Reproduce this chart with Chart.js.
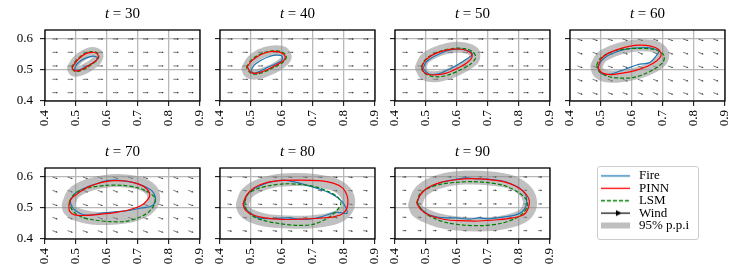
<!DOCTYPE html>
<html>
<head>
<meta charset="utf-8">
<script src="https://cdn.jsdelivr.net/npm/chart.js@4.4.1/dist/chart.umd.min.js"></script>
<style>
  html, body { margin: 0; padding: 0; background: #fff; }
  #wrap { position: relative; width: 746px; height: 277px; overflow: hidden; }
  #wrap canvas.panel { position: absolute; left: 0; top: 0; }
  #legendBox { position: absolute; left: 597px; top: 166px; width: 100px; height: 72px;
    border: 1px solid #cccccc; border-radius: 3px; background: #fff; }
</style>
</head>
<body>
<div id="wrap">
  <div id="legendBox"><canvas id="legend" width="100" height="72"></canvas></div>
</div>
<script>
const times = [30, 40, 50, 60, 70, 80, 90];
const xTicks = [0.4, 0.5, 0.6, 0.7, 0.8, 0.9];
const yTicks = [0.4, 0.5, 0.6];
const legendNames = ["Fire", "PINN", "LSM", "Wind", "95% p.p.i"];

// wind grid (arrow tails) and the wind vector for each time
const windX = [0.424, 0.473, 0.522, 0.570, 0.619, 0.668, 0.716, 0.765, 0.814, 0.862];
const windY = [0.427, 0.470, 0.513, 0.557, 0.600];
const windU = [0.018, 0.018, 0.018, 0.017, 0.017, 0.015, 0.013];
const windV = [0, 0, 0, -0.006, -0.006, -0.002, 0];

// front contours, [x, y]
const fire30 = [[0.495,0.500],[0.500,0.515],[0.515,0.530],[0.535,0.540],[0.555,0.545],[0.568,0.540],[0.565,0.530],[0.550,0.520],[0.530,0.510],[0.510,0.500]];
const pinn30 = [[0.487,0.505],[0.495,0.520],[0.510,0.537],[0.530,0.552],[0.550,0.557],[0.565,0.555],[0.572,0.545],[0.566,0.532],[0.550,0.520],[0.530,0.507],[0.510,0.498],[0.495,0.498]];
const lsm30 = [[0.486,0.507],[0.494,0.523],[0.510,0.540],[0.530,0.554],[0.550,0.559],[0.566,0.557],[0.574,0.546],[0.568,0.532],[0.552,0.519],[0.531,0.505],[0.510,0.496],[0.494,0.497]];
const band30 = [[0.487,0.505],[0.500,0.528],[0.525,0.548],[0.553,0.558],[0.572,0.550],[0.566,0.530],[0.540,0.510],[0.510,0.496],[0.492,0.496]];

const fire40 = [[0.500,0.497],[0.510,0.515],[0.530,0.530],[0.555,0.542],[0.580,0.548],[0.600,0.545],[0.600,0.532],[0.580,0.520],[0.550,0.507],[0.525,0.494],[0.507,0.490]];
const pinn40 = [[0.488,0.510],[0.500,0.527],[0.520,0.543],[0.545,0.555],[0.570,0.560],[0.595,0.557],[0.610,0.545],[0.605,0.530],[0.580,0.515],[0.550,0.500],[0.520,0.490],[0.500,0.492]];
const lsm40 = [[0.485,0.508],[0.497,0.528],[0.520,0.546],[0.548,0.558],[0.575,0.562],[0.600,0.558],[0.614,0.545],[0.607,0.528],[0.580,0.512],[0.550,0.497],[0.520,0.487],[0.498,0.490]];
const band40 = [[0.485,0.505],[0.500,0.530],[0.530,0.552],[0.570,0.563],[0.605,0.560],[0.615,0.540],[0.590,0.515],[0.550,0.495],[0.510,0.485],[0.490,0.492]];

const fire50 = [[0.490,0.505],[0.500,0.525],[0.520,0.540],[0.550,0.555],[0.580,0.565],[0.610,0.567],[0.640,0.560],[0.650,0.550],[0.630,0.535],[0.600,0.515],[0.570,0.500],[0.540,0.488],[0.510,0.487]];
const pinn50 = [[0.487,0.513],[0.497,0.530],[0.520,0.548],[0.550,0.560],[0.585,0.567],[0.620,0.566],[0.645,0.555],[0.648,0.540],[0.630,0.522],[0.600,0.505],[0.565,0.490],[0.530,0.484],[0.503,0.487],[0.490,0.497]];
const lsm50 = [[0.485,0.510],[0.495,0.530],[0.520,0.550],[0.555,0.563],[0.590,0.570],[0.625,0.569],[0.652,0.558],[0.660,0.540],[0.645,0.520],[0.610,0.500],[0.575,0.485],[0.540,0.478],[0.510,0.482],[0.490,0.495]];
const band50 = [[0.482,0.508],[0.495,0.535],[0.525,0.555],[0.570,0.570],[0.620,0.572],[0.655,0.558],[0.655,0.535],[0.625,0.512],[0.580,0.490],[0.530,0.478],[0.495,0.485]];

const fire60 = [[0.490,0.508],[0.500,0.528],[0.520,0.545],[0.540,0.555],[0.570,0.565],[0.610,0.571],[0.650,0.572],[0.675,0.567],[0.687,0.560],[0.680,0.548],[0.668,0.533],[0.655,0.523],[0.635,0.520],[0.615,0.516],[0.590,0.507],[0.565,0.498],[0.535,0.488],[0.510,0.485],[0.495,0.493]];
const pinn60 = [[0.492,0.515],[0.500,0.535],[0.520,0.552],[0.550,0.565],[0.590,0.576],[0.625,0.580],[0.660,0.577],[0.685,0.567],[0.694,0.548],[0.680,0.530],[0.650,0.512],[0.610,0.498],[0.570,0.490],[0.530,0.485],[0.505,0.490],[0.493,0.502]];
const lsm60 = [[0.486,0.515],[0.495,0.535],[0.515,0.550],[0.545,0.562],[0.580,0.568],[0.620,0.570],[0.660,0.568],[0.690,0.560],[0.704,0.545],[0.700,0.525],[0.675,0.505],[0.640,0.487],[0.600,0.475],[0.560,0.474],[0.520,0.480],[0.495,0.495]];
const band60 = [[0.485,0.512],[0.500,0.540],[0.535,0.560],[0.580,0.574],[0.630,0.580],[0.675,0.575],[0.700,0.555],[0.695,0.530],[0.665,0.508],[0.620,0.490],[0.565,0.480],[0.515,0.480],[0.490,0.495]];

const fire70 = [[0.481,0.525],[0.500,0.550],[0.530,0.565],[0.560,0.576],[0.600,0.588],[0.630,0.590],[0.670,0.585],[0.700,0.578],[0.725,0.568],[0.745,0.555],[0.756,0.535],[0.753,0.515],[0.740,0.505],[0.710,0.500],[0.670,0.492],[0.630,0.488],[0.590,0.484],[0.550,0.478],[0.525,0.478],[0.505,0.487],[0.486,0.505]];
const pinn70 = [[0.477,0.508],[0.485,0.530],[0.510,0.550],[0.540,0.568],[0.580,0.582],[0.620,0.588],[0.660,0.587],[0.700,0.578],[0.728,0.562],[0.738,0.543],[0.730,0.525],[0.710,0.508],[0.675,0.495],[0.630,0.486],[0.580,0.480],[0.530,0.476],[0.495,0.478],[0.479,0.490]];
const lsm70 = [[0.478,0.520],[0.490,0.540],[0.515,0.557],[0.550,0.567],[0.600,0.573],[0.650,0.573],[0.700,0.565],[0.735,0.550],[0.755,0.532],[0.752,0.510],[0.735,0.488],[0.705,0.470],[0.660,0.457],[0.610,0.456],[0.560,0.461],[0.520,0.470],[0.495,0.485],[0.481,0.505]];
const band70 = [[0.475,0.510],[0.490,0.545],[0.530,0.570],[0.590,0.585],[0.650,0.588],[0.710,0.578],[0.745,0.555],[0.750,0.525],[0.730,0.497],[0.685,0.477],[0.620,0.467],[0.550,0.468],[0.500,0.480],[0.478,0.495]];

const fire80 = [[0.476,0.518],[0.490,0.545],[0.515,0.565],[0.555,0.582],[0.606,0.590],[0.650,0.582],[0.690,0.570],[0.725,0.560],[0.755,0.548],[0.780,0.533],[0.800,0.512],[0.810,0.483],[0.790,0.485],[0.770,0.485],[0.720,0.470],[0.670,0.463],[0.620,0.468],[0.570,0.466],[0.520,0.469],[0.497,0.485],[0.480,0.500]];
const pinn80 = [[0.474,0.512],[0.485,0.540],[0.510,0.565],[0.550,0.582],[0.600,0.589],[0.660,0.590],[0.720,0.588],[0.765,0.580],[0.795,0.565],[0.810,0.540],[0.812,0.510],[0.800,0.485],[0.770,0.472],[0.720,0.467],[0.660,0.464],[0.600,0.463],[0.545,0.468],[0.505,0.478],[0.482,0.493]];
const lsm80 = [[0.480,0.520],[0.490,0.545],[0.520,0.562],[0.560,0.572],[0.610,0.578],[0.660,0.576],[0.710,0.568],[0.750,0.553],[0.780,0.535],[0.790,0.515],[0.775,0.490],[0.745,0.466],[0.700,0.447],[0.650,0.444],[0.590,0.450],[0.540,0.460],[0.505,0.474],[0.485,0.495]];
const band80 = [[0.472,0.510],[0.485,0.545],[0.520,0.570],[0.575,0.587],[0.640,0.592],[0.710,0.588],[0.770,0.575],[0.805,0.550],[0.815,0.515],[0.800,0.485],[0.760,0.465],[0.690,0.455],[0.620,0.455],[0.550,0.460],[0.500,0.475],[0.478,0.492]];

const fire90 = [[0.472,0.520],[0.485,0.548],[0.510,0.567],[0.550,0.583],[0.600,0.593],[0.630,0.597],[0.660,0.594],[0.700,0.593],[0.740,0.588],[0.770,0.580],[0.800,0.565],[0.820,0.545],[0.825,0.525],[0.822,0.505],[0.810,0.488],[0.790,0.478],[0.760,0.472],[0.730,0.468],[0.700,0.465],[0.670,0.468],[0.640,0.464],[0.600,0.468],[0.570,0.468],[0.540,0.470],[0.510,0.478],[0.490,0.492],[0.478,0.505]];
const pinn90 = [[0.470,0.515],[0.480,0.540],[0.505,0.565],[0.545,0.582],[0.600,0.592],[0.650,0.595],[0.700,0.592],[0.750,0.585],[0.790,0.570],[0.820,0.548],[0.833,0.525],[0.830,0.500],[0.815,0.478],[0.780,0.468],[0.730,0.462],[0.670,0.458],[0.610,0.459],[0.560,0.463],[0.515,0.475],[0.485,0.493]];
const lsm90 = [[0.470,0.517],[0.480,0.545],[0.510,0.565],[0.550,0.577],[0.600,0.583],[0.650,0.585],[0.700,0.582],[0.750,0.573],[0.790,0.555],[0.820,0.532],[0.828,0.510],[0.815,0.485],[0.785,0.465],[0.740,0.450],[0.680,0.443],[0.620,0.445],[0.570,0.452],[0.530,0.465],[0.495,0.485]];
const band90 = [[0.465,0.510],[0.478,0.545],[0.510,0.572],[0.560,0.590],[0.630,0.598],[0.700,0.596],[0.770,0.585],[0.815,0.560],[0.835,0.525],[0.828,0.490],[0.800,0.468],[0.740,0.452],[0.670,0.447],[0.600,0.450],[0.540,0.460],[0.500,0.475],[0.472,0.492]];

const fire = [fire30, fire40, fire50, fire60, fire70, fire80, fire90];
const pinn = [pinn30, pinn40, pinn50, pinn60, pinn70, pinn80, pinn90];
const lsm = [lsm30, lsm40, lsm50, lsm60, lsm70, lsm80, lsm90];
const band = [band30, band40, band50, band60, band70, band80, band90];
const bandWidth = [10, 10, 11, 12, 13, 13, 14];

const SERIF = "'Liberation Serif', 'Times New Roman', serif";
const W = 746, H = 277;
const colLeft = [45, 220, 395, 570];

// closed curve -> {x,y} list
function closed(pts) {
  return pts.concat([pts[0]]).map(p => ({ x: p[0], y: p[1] }));
}

// quiver arrows from datasets flagged with quiver:true
const quiverPlugin = {
  id: "quiver",
  beforeDatasetsDraw(chart) {
    const { ctx, scales: { x, y } } = chart;
    ctx.save();
    ctx.beginPath();
    ctx.rect(chart.chartArea.left, chart.chartArea.top, chart.chartArea.width, chart.chartArea.height);
    ctx.clip();
    ctx.strokeStyle = "#222";
    ctx.fillStyle = "#222";
    ctx.lineWidth = 0.6;
    chart.data.datasets.forEach(ds => {
      if (!ds.quiver) return;
      ds.data.forEach(p => {
        const x0 = x.getPixelForValue(p.x), y0 = y.getPixelForValue(p.y);
        const x1 = x.getPixelForValue(p.x + p.u), y1 = y.getPixelForValue(p.y + p.v);
        const a = Math.atan2(y1 - y0, x1 - x0);
        const hl = 1.8, hw = 0.9;
        const bx = x1 - hl * Math.cos(a), by = y1 - hl * Math.sin(a);
        ctx.beginPath();
        ctx.moveTo(x0, y0);
        ctx.lineTo(bx, by);
        ctx.stroke();
        ctx.beginPath();
        ctx.moveTo(x1, y1);
        ctx.lineTo(bx + hw * Math.sin(a), by - hw * Math.cos(a));
        ctx.lineTo(bx - hw * Math.sin(a), by + hw * Math.cos(a));
        ctx.closePath();
        ctx.fill();
      });
    });
    ctx.restore();
  }
};

// black box round each panel
const framePlugin = {
  id: "frame",
  afterDatasetsDraw(chart) {
    const { ctx, chartArea: a } = chart;
    ctx.save();
    ctx.strokeStyle = "#000";
    ctx.lineWidth = 1.3;
    ctx.strokeRect(a.left, a.top, a.width, a.height);
    ctx.restore();
  }
};

// "t = 30" with an italic t
const titlePlugin = {
  id: "panelTitle",
  afterDraw(chart, args, opts) {
    const { ctx, chartArea: a } = chart;
    const it = "italic 15px " + SERIF, rm = "15px " + SERIF;
    ctx.save();
    ctx.fillStyle = "#000";
    ctx.textBaseline = "middle";
    ctx.font = it;
    const wt = ctx.measureText("t").width;
    ctx.font = rm;
    const rest = " = " + opts.text;
    const wr = ctx.measureText(rest).width;
    const x = (a.left + a.right) / 2 - (wt + wr) / 2;
    const yy = a.top - 16;
    ctx.font = it;
    ctx.fillText("t", x, yy);
    ctx.font = rm;
    ctx.fillText(rest, x + wt, yy);
    ctx.restore();
  }
};

const wrap = document.getElementById("wrap");

times.forEach((t, i) => {
  const row = i < 4 ? 0 : 1, col = i % 4;
  const left = colLeft[col], right = left + 155;
  const top = row ? 168 : 30, bottom = row ? 239 : 101;

  const cv = document.createElement("canvas");
  cv.className = "panel";
  cv.width = W;
  cv.height = H;
  wrap.insertBefore(cv, wrap.firstChild);

  const wind = [];
  windY.forEach(wy => windX.forEach(wx => wind.push({ x: wx, y: wy, u: windU[i], v: windV[i] })));

  const line = { showLine: true, pointRadius: 0, borderWidth: 1.2, tension: 0.3, fill: false };

  new Chart(cv, {
    type: "scatter",
    data: {
      datasets: [
        { ...line, label: "PINN", data: closed(pinn[i]), borderColor: "#ff0000", order: 1 },
        { ...line, label: "LSM", data: closed(lsm[i]), borderColor: "#008000", borderDash: [4, 2], order: 2 },
        { ...line, label: "Fire", data: closed(fire[i]), borderColor: "#1f77b4", order: 3 },
        { ...line, label: "95% p.p.i", data: closed(band[i]), borderColor: "rgba(140,140,140,0.55)",
          borderWidth: bandWidth[i], borderJoinStyle: "round", borderCapStyle: "round", order: 5 },
        { label: "Wind", data: wind, quiver: true, pointRadius: 0, showLine: false, order: 6 }
      ]
    },
    options: {
      responsive: false,
      animation: false,
      events: [],
      layout: { padding: { left: left - 30, right: W - right, top: top, bottom: H - bottom - 30 } },
      plugins: {
        legend: { display: false },
        tooltip: { enabled: false },
        panelTitle: { text: String(t) }
      },
      scales: {
        x: {
          type: "linear", min: 0.4, max: 0.9,
          afterBuildTicks: s => { s.ticks = xTicks.map(v => ({ value: v })); },
          afterFit: s => { s.height = 30; },
          border: { display: false },
          grid: { color: "#b8b8b8", lineWidth: 1.3, tickColor: "#000", tickLength: 5, tickWidth: 1 },
          ticks: { minRotation: 90, maxRotation: 90, padding: 4, color: "#000",
                   font: { family: SERIF, size: 13 }, callback: v => v.toFixed(1) }
        },
        y: {
          type: "linear", min: 0.4, max: 0.629,
          afterBuildTicks: s => { s.ticks = yTicks.map(v => ({ value: v })); },
          afterFit: s => { s.width = 30; },
          border: { display: false },
          grid: { color: "#b8b8b8", lineWidth: 1.3, tickColor: "#000", tickLength: 5, tickWidth: 1 },
          ticks: { display: col === 0, padding: 7, color: "#000",
                   font: { family: SERIF, size: 13 }, callback: v => v.toFixed(1) }
        }
      }
    },
    plugins: [quiverPlugin, framePlugin, titlePlugin]
  });
});

// legend symbols
function icon(draw) {
  const c = document.createElement("canvas");
  c.width = 29;
  c.height = 9;
  const g = c.getContext("2d");
  draw(g);
  return c;
}
const legendIcons = [
  icon(g => { g.strokeStyle = "#1f77b4"; g.lineWidth = 1.3; g.beginPath(); g.moveTo(0, 4.5); g.lineTo(29, 4.5); g.stroke(); }),
  icon(g => { g.strokeStyle = "#ff0000"; g.lineWidth = 1.3; g.beginPath(); g.moveTo(0, 4.5); g.lineTo(29, 4.5); g.stroke(); }),
  icon(g => { g.strokeStyle = "#008000"; g.lineWidth = 1.3; g.setLineDash([4, 2]); g.beginPath(); g.moveTo(0, 4.5); g.lineTo(29, 4.5); g.stroke(); }),
  icon(g => {
    g.strokeStyle = "#000"; g.fillStyle = "#000"; g.lineWidth = 1.2;
    g.beginPath(); g.moveTo(0, 4.5); g.lineTo(29, 4.5); g.stroke();
    g.beginPath(); g.moveTo(21, 4.5); g.lineTo(15, 1.5); g.lineTo(15, 7.5); g.closePath(); g.fill();
  }),
  icon(g => { g.fillStyle = "#bfbfbf"; g.fillRect(0, 1.5, 29, 6); })
];

new Chart(document.getElementById("legend"), {
  type: "line",
  data: { datasets: legendNames.map(n => ({ label: n, data: [] })) },
  options: {
    responsive: false,
    animation: false,
    events: [],
    layout: { padding: { top: 3, left: 1 } },
    scales: { x: { display: false }, y: { display: false } },
    plugins: {
      tooltip: { enabled: false },
      legend: {
        display: true, position: "left", align: "start", maxWidth: 200,
        labels: {
          usePointStyle: true, pointStyleWidth: 34, padding: -0.6, color: "#000",
          font: { family: SERIF, size: 13 },
          generateLabels: () => legendNames.map((n, k) => ({
            text: n, pointStyle: legendIcons[k], hidden: false, datasetIndex: k,
            lineWidth: 0, fillStyle: "rgba(0,0,0,0)", strokeStyle: "rgba(0,0,0,0)"
          }))
        }
      }
    }
  }
});
</script>
</body>
</html>
